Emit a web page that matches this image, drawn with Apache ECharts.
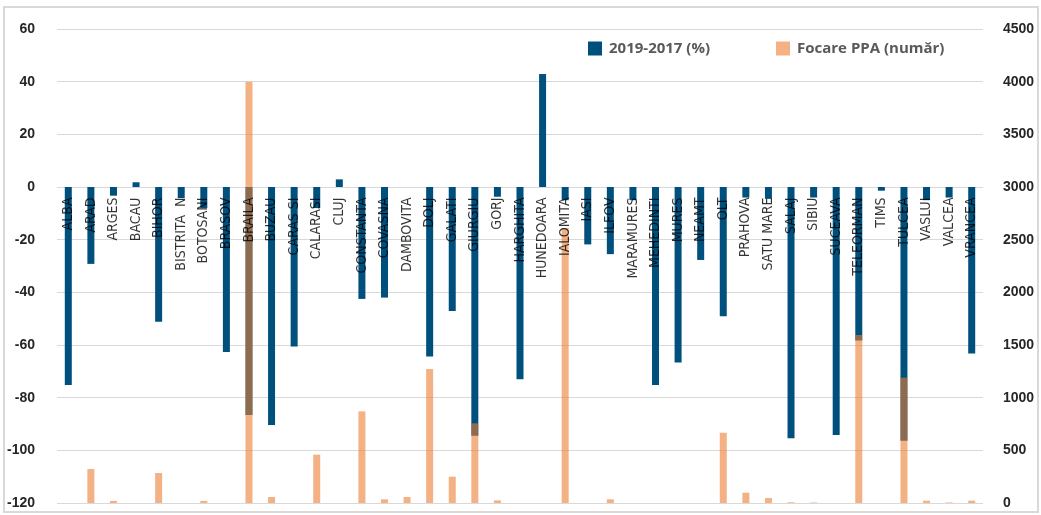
<!DOCTYPE html>
<html>
<head>
<meta charset="utf-8">
<script src="https://cdn.jsdelivr.net/npm/echarts@6/dist/echarts.min.js"></script>
<style>
  html, body { margin: 0; padding: 0; background: #fff; }
  #chart { width: 1041px; height: 515px; }
</style>
</head>
<body>
<div id="chart"></div>
<script>
// Județe (county names as they appear on the category axis)
const counties = ['ALBA','ARAD','ARGES','BACAU','BIHOR','BISTRITA  N','BOTOSANI','BRASOV','BRAILA','BUZAU',
  'CARAS SI','CALARASI','CLUJ','CONSTANTA','COVASNA','DAMBOVITA','DOLJ','GALATI','GIURGIU','GORJ',
  'HARGHITA','HUNEDOARA','IALOMITA','IASI','ILFOV','MARAMURES','MEHEDINTI','MURES','NEAMT','OLT',
  'PRAHOVA','SATU MARE','SALAJ','SIBIU','SUCEAVA','TELEORMAN','TIMS','TULCEA','VASLUI','VALCEA','VRANCEA'];

// Variation 2019 vs 2017, percent (left axis)
const change2019vs2017 = [-75.2, -29.2, -3.3, 1.8, -51.2, -4.2, -8, -62.7, -86.6, -90.4,
  -60.6, -8, 2.9, -42.5, -42.0, 0, -64.4, -47.1, -94.5, -3.7,
  -73.0, 42.9, -5, -21.8, -25.5, -5, -75.2, -66.6, -27.7, -49.1,
  -4, -4.5, -95.4, -4, -94.2, -58.3, -1.4, -96.4, -5, -4, -63.2];

// African swine fever outbreaks, count (right axis)
const ppaOutbreaks = [0, 323, 20, 0, 285, 0, 20, 0, 4000, 57,
  0, 459, 0, 870, 35, 57, 1272, 250, 756, 25,
  0, 0, 2610, 0, 35, 0, 0, 0, 0, 667,
  98, 47, 7, 5, 0, 1595, 0, 1189, 22, 5, 22];

const seriesNames = ['2019-2017 (%)', 'Focare PPA (număr)'];

const chart = echarts.init(document.getElementById('chart'), null, { renderer: 'canvas' });

const valueLabel = {
  color: '#262626',
  fontFamily: 'Liberation Sans, Arial, sans-serif',
  fontWeight: 'bold',
  fontSize: 14,
  formatter: function (v) { return String(v); }
};

// County names hang from the zero line of the percent axis
const zeroLine = counties.map(function () { return 0; });

chart.setOption({
  animation: false,
  backgroundColor: '#ffffff',
  graphic: [{
    type: 'rect',
    shape: { x: 4, y: 7, width: 1034, height: 505 },
    style: { fill: 'none', stroke: '#d9d9d9', lineWidth: 2 },
    silent: true,
    z: -1
  }],
  legend: {
    left: 583,
    top: 36,
    itemWidth: 14,
    itemHeight: 14,
    itemGap: 66,
    icon: 'rect',
    textStyle: {
      color: '#595959',
      fontFamily: 'Open Sans, sans-serif',
      fontWeight: 'bold',
      fontSize: 15,
      padding: [0, 0, 0, 2]
    },
    data: seriesNames
  },
  grid: { left: 57, right: 58, top: 29, bottom: 12, containLabel: false, outerBoundsMode: 'none' },
  xAxis: {
    type: 'category',
    data: counties,
    axisLine: { show: false },
    axisTick: { show: false },
    axisLabel: { show: false },
    splitLine: { show: false }
  },
  yAxis: [{
    type: 'value',
    min: -120,
    max: 60,
    interval: 20,
    position: 'left',
    axisLine: { show: false },
    axisTick: { show: false },
    axisLabel: Object.assign({ margin: 22 }, valueLabel),
    splitLine: { lineStyle: { color: '#d9d9d9', width: 1 } }
  }, {
    type: 'value',
    min: 0,
    max: 4500,
    interval: 500,
    position: 'right',
    axisLine: { show: false },
    axisTick: { show: false },
    axisLabel: Object.assign({ margin: 20 }, valueLabel),
    splitLine: { show: false }
  }],
  series: [{
    name: seriesNames[0],
    type: 'bar',
    yAxisIndex: 0,
    data: change2019vs2017,
    barWidth: 7,
    barGap: '-100%',
    itemStyle: { color: '#00507D' },
    z: 2
  }, {
    name: seriesNames[1],
    type: 'bar',
    yAxisIndex: 1,
    data: ppaOutbreaks,
    barWidth: 7,
    barGap: '-100%',
    itemStyle: { color: '#ED7D31', opacity: 0.6 },
    z: 3
  }, {
    name: 'county-labels',
    type: 'scatter',
    yAxisIndex: 0,
    data: zeroLine,
    symbolSize: 1,
    itemStyle: { color: 'rgba(0,0,0,0)' },
    silent: true,
    z: 10,
    label: {
      show: true,
      position: 'bottom',
      distance: 10,
      rotate: 90,
      align: 'right',
      verticalAlign: 'middle',
      formatter: function (p) { return counties[p.dataIndex]; },
      color: '#000',
      fontFamily: 'Liberation Sans Narrow, DejaVu Sans Condensed, sans-serif',
      fontSize: 14
    }
  }]
});
</script>
</body>
</html>
